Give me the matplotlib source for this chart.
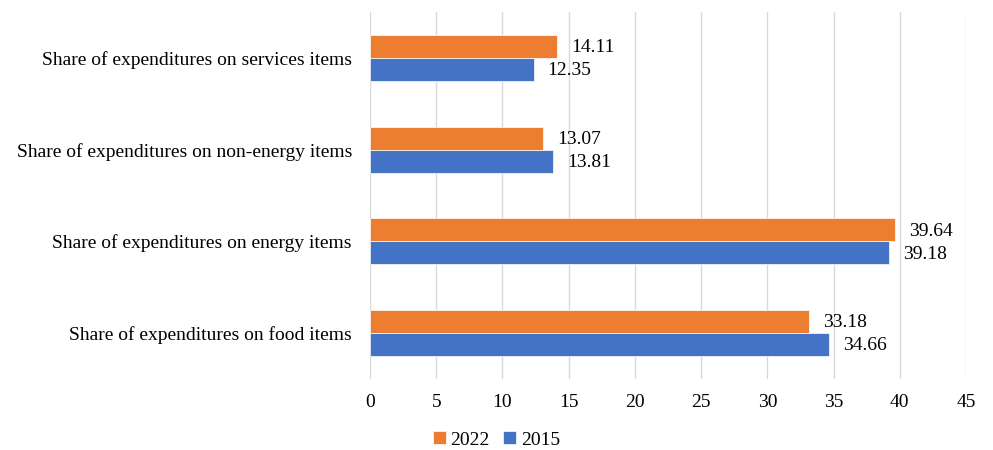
import matplotlib
matplotlib.use("Agg")
import matplotlib.pyplot as plt
import numpy as np

categories = [
    "Share of expenditures on food items",
    "Share of expenditures on energy items",
    "Share of expenditures on non-energy items",
    "Share of expenditures on services items",
]
values_2022 = [33.18, 39.64, 13.07, 14.11]
values_2015 = [34.66, 39.18, 13.81, 12.35]
x_ticks = [0, 5, 10, 15, 20, 25, 30, 35, 40, 45]

plt.rcParams['font.family'] = ['Liberation Serif', 'DejaVu Serif']

orange = "#ED7D31"
blue = "#4472C4"
fs = 14

fig = plt.figure(figsize=(9.93, 4.5), dpi=100)
ax = fig.add_axes([0.3726, 0.158, 0.6002, 0.815])

y = np.arange(len(categories))
h = 0.25
bars_2015 = ax.barh(y - h / 2, values_2015, height=h, color=blue, label="2015",
                    edgecolor="white", linewidth=0.5, zorder=3)
bars_2022 = ax.barh(y + h / 2, values_2022, height=h, color=orange, label="2022",
                    edgecolor="white", linewidth=0.5, zorder=3)

for bars, vals in [(bars_2015, values_2015), (bars_2022, values_2022)]:
    for b, v in zip(bars, vals):
        ax.annotate(f"{v:.2f}", (v, b.get_y() + b.get_height() / 2),
                    xytext=(10, -1), textcoords="offset points",
                    va="center", ha="left", fontsize=fs, color="#000000")

ax.set_xlim(0, 45)
ax.set_ylim(-0.5, 3.5)
ax.set_xticks(x_ticks)
ax.set_xticklabels([str(t) for t in x_ticks], fontsize=fs)
ax.set_yticks(y)
ax.set_yticklabels(categories, fontsize=fs)
ax.tick_params(axis="both", length=0)
ax.tick_params(axis="x", pad=11)
ax.tick_params(axis="y", pad=13)
ax.grid(axis="x", color="#D9D9D9", linewidth=1, zorder=0)
for s in ax.spines.values():
    s.set_visible(False)

handles = [bars_2022, bars_2015]
fig.legend(handles, ["2022", "2015"], loc="center", bbox_to_anchor=(0.5, 0.022),
           ncol=2, frameon=False, fontsize=fs, handlelength=0.65, handleheight=0.65,
           handletextpad=0.25, columnspacing=0.7)

fig.savefig("out.png", dpi=100)
